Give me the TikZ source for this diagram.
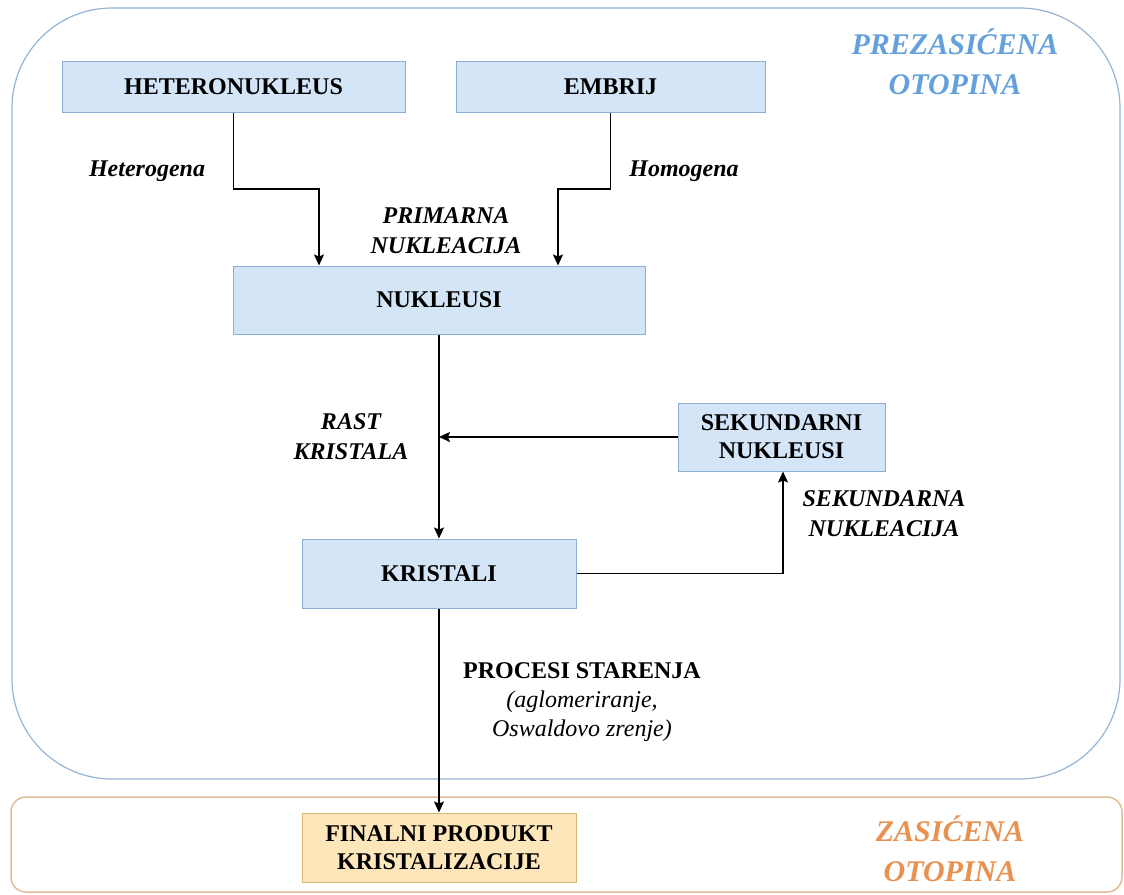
\documentclass[tikz,border=0pt]{standalone}
\usepackage{fontspec}
\setmainfont{LiberationSerif}[Extension=.ttf, UprightFont=*-Regular, BoldFont=*-Bold, ItalicFont=*-Italic, BoldItalicFont=*-BoldItalic]
\usetikzlibrary{arrows.meta,calc}
\definecolor{boxfill}{RGB}{212,229,247}
\definecolor{boxdraw}{RGB}{140,175,212}
\definecolor{regblue}{RGB}{150,180,210}
\definecolor{txtblue}{RGB}{100,160,220}
\definecolor{regorange}{RGB}{222,190,150}
\definecolor{txtorange}{RGB}{232,145,80}
\definecolor{finfill}{RGB}{253,230,185}
\definecolor{findraw}{RGB}{215,180,120}
\begin{document}
\begin{tikzpicture}[x=1pt,y=-1pt,
  procbox/.style={draw=boxdraw, fill=boxfill, line width=1pt, inner sep=0pt, align=center, font=\fontsize{24}{28}\selectfont\bfseries},
  lbl/.style={inner sep=0pt, align=center, font=\fontsize{24}{30}\selectfont\bfseries\itshape},
  region/.style={inner sep=0pt, align=center, font=\fontsize{30}{40}\selectfont\bfseries\itshape},
  arr/.style={line width=1.4pt, -{Stealth[length=11pt,width=10pt,inset=2pt]}}]
\useasboundingbox (0,0) rectangle (1124,894);
% regions
\draw[regblue, line width=1.2pt, rounded corners=100pt] (12,8) rectangle (1120,779);
\draw[regorange, line width=1.5pt, rounded corners=15pt] (11,797) rectangle (1122,892);
\node[region, text=txtblue] (prez) at (955,62) {PREZASIĆENA\\OTOPINA};
\node[region, text=txtorange] (zas) at (950,849) {ZASIĆENA\\OTOPINA};
% boxes
\node[procbox, minimum width=343pt, minimum height=51pt] (het) at (233.5,86.5) {HETERONUKLEUS};
\node[procbox, minimum width=309pt, minimum height=51pt] (emb) at (610.5,86.5) {EMBRIJ};
\node[procbox, minimum width=412pt, minimum height=68pt] (nuk) at (439,300) {NUKLEUSI};
\node[procbox, minimum width=207pt, minimum height=68pt] (sek) at (781.5,437) {SEKUNDARNI\\NUKLEUSI};
\node[procbox, minimum width=274pt, minimum height=69pt] (kri) at (439,573.5) {KRISTALI};
\node[procbox, draw=findraw, fill=finfill, minimum width=274pt, minimum height=69pt] (fin) at (439,847.5) {FINALNI PRODUKT\\KRISTALIZACIJE};
% labels
\node[lbl] (lhet) at (147,171) {Heterogena};
\node[lbl] (lhom) at (684,171) {Homogena};
\node[lbl] (lprim) at (446,231) {PRIMARNA\\NUKLEACIJA};
\node[lbl] (lrast) at (351,437) {RAST\\KRISTALA};
\node[lbl] (lsek) at (884,514) {SEKUNDARNA\\NUKLEACIJA};
\node[lbl, font=\fontsize{24}{29}\selectfont\bfseries\upshape] (lproc) at (582,702) {PROCESI STARENJA\\{\mdseries\itshape (aglomeriranje,}\\{\mdseries\itshape Oswaldovo zrenje)}};
% connectors
\coordinate (hb) at (319,189);
\coordinate (eb) at (558,189);
\coordinate (kb) at (783,573.5);
\draw[arr] (het.south) |- (hb) -- (hb |- nuk.north);
\draw[arr] (emb.south) |- (eb) -- (eb |- nuk.north);
\draw[arr] (nuk.south) -- (kri.north);
\draw[arr] (sek.west) -- (sek.west -| nuk.south);
\draw[arr] (kri.east) -- (kb) -- (kb |- sek.south);
\draw[arr] (kri.south) -- (fin.north);
\end{tikzpicture}
\end{document}
